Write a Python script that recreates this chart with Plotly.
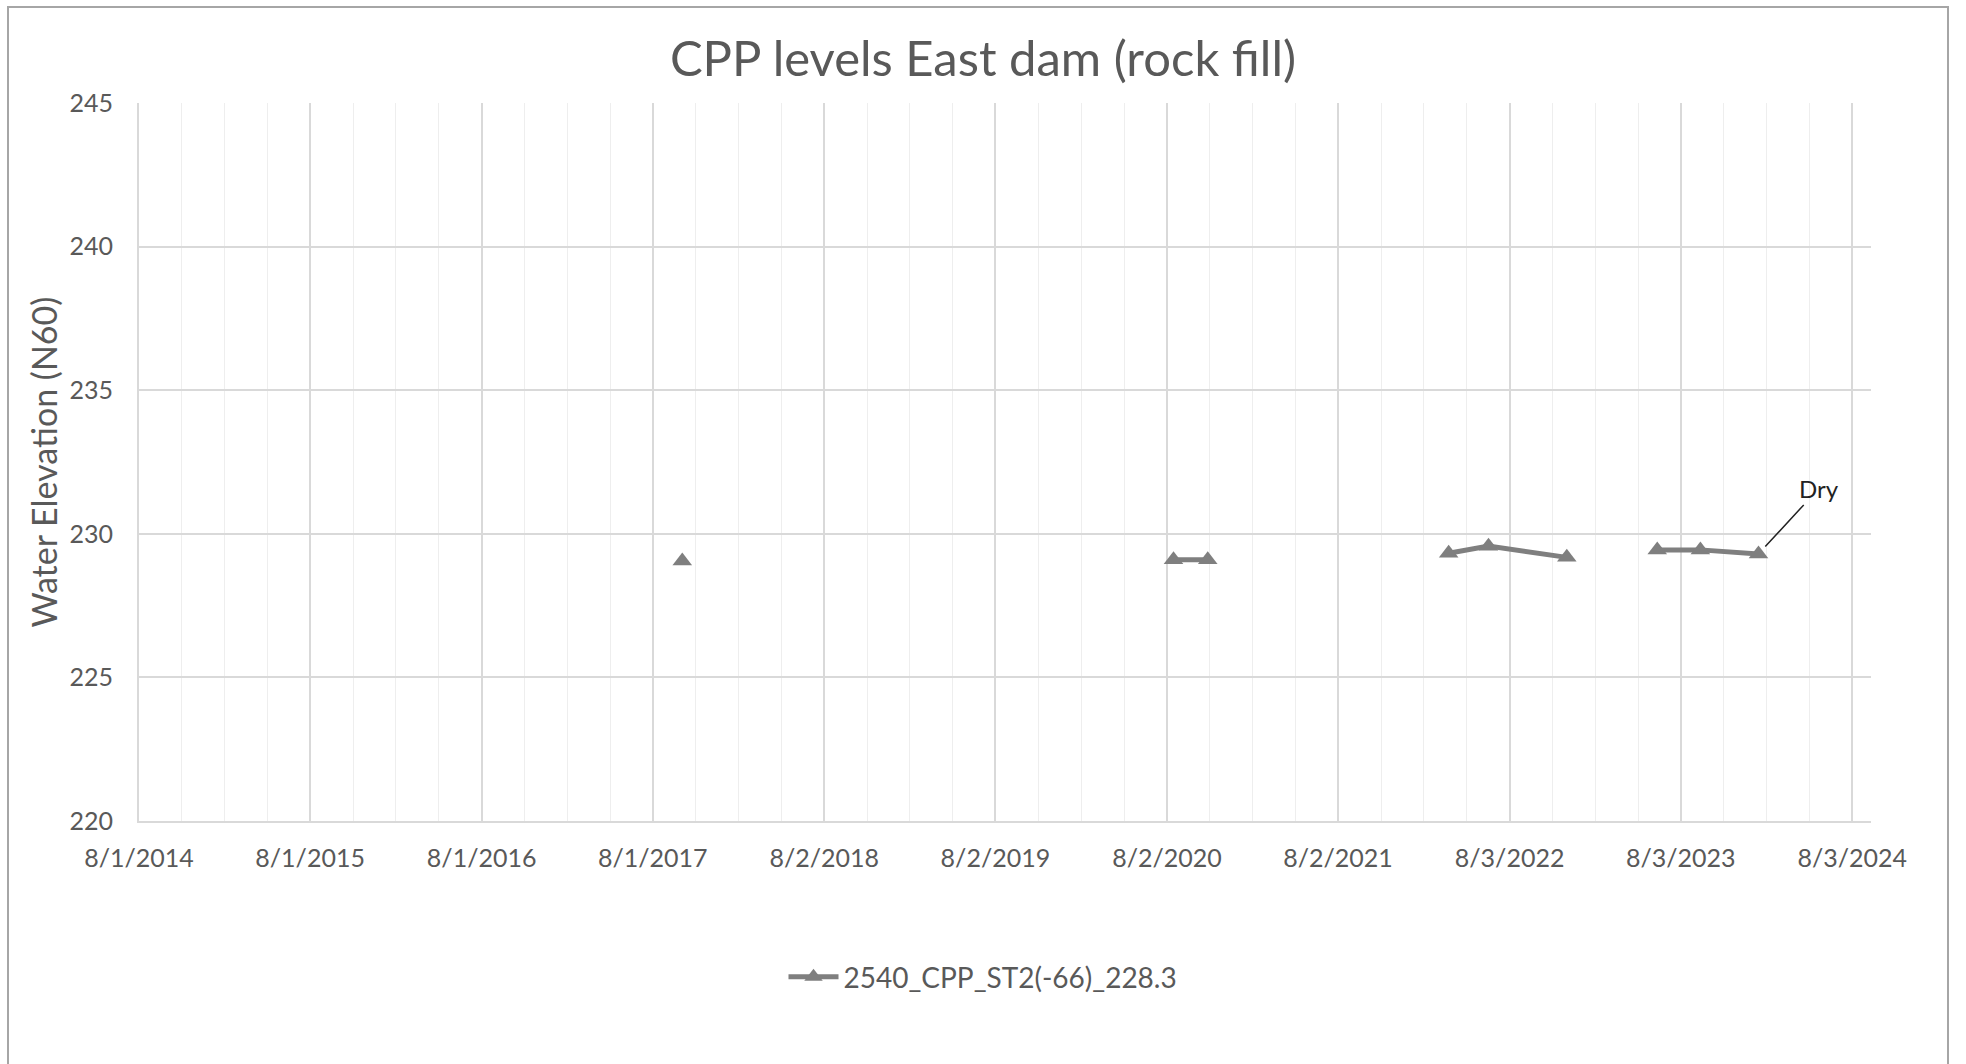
import pandas as pd
import plotly.graph_objects as go

# ---- data ----
reading_dates = ["2017-10-03", "2020-08-16", "2020-10-28",
                 "2022-03-26", "2022-06-19", "2022-12-03",
                 "2023-06-14", "2023-09-14", "2024-01-16"]
water_elev = [229.05, 229.10, 229.10,
              229.32, 229.57, 229.18,
              229.44, 229.44, 229.30]
campaign = [1, 2, 2, 3, 3, 3, 4, 4, 4]   # readings joined by a line within a campaign

series_name = "2540_CPP_ST2(-66)_228.3"
x_tick_labels = ["8/1/2014", "8/1/2015", "8/1/2016", "8/1/2017", "8/2/2018",
                 "8/2/2019", "8/2/2020", "8/2/2021", "8/3/2022", "8/3/2023", "8/3/2024"]
y_tick_vals = [220, 225, 230, 235, 240, 245]
x_range = ["2014-08-01", "2024-09-12"]

# ---- build one trace with gaps between campaigns ----
xs, ys = [], []
prev = None
for d, v, c in zip(reading_dates, water_elev, campaign):
    if prev is not None and c != prev:
        xs.append(None)
        ys.append(None)
    xs.append(d)
    ys.append(v)
    prev = c

TXT = "#595959"
GRID = "#d9d9d9"
MINOR = "#eeeeee"
SERIES = "#7f7f7f"
FONT = "Lato, Noto Sans, sans-serif"

tick_dates = pd.to_datetime(x_tick_labels, format="%m/%d/%Y")
step_ms = 365.5 / 4 * 24 * 3600 * 1000

fig = go.Figure()
fig.add_trace(go.Scatter(
    x=xs, y=ys, name=series_name, mode="lines+markers",
    connectgaps=False,
    line=dict(color=SERIES, width=5),
    marker=dict(symbol="triangle-up", size=17, color=SERIES),
))

fig.update_layout(
    width=1966, height=1064,
    margin=dict(l=139, r=95, t=103, b=243),
    paper_bgcolor="white", plot_bgcolor="white",
    font=dict(family=FONT, color=TXT, size=25),
    title=dict(text="CPP levels East dam (rock fill)", x=0.5, xref="container",
               xanchor="center", y=1 - 59 / 1064, yref="container", yanchor="middle",
               font=dict(size=49, color=TXT, family=FONT)),
    showlegend=True,
    legend=dict(orientation="h", xref="container", yref="container",
                x=0.5, xanchor="center", y=1 - 977 / 1064, yanchor="middle",
                font=dict(size=28, color=TXT, family=FONT), itemwidth=50),
    xaxis=dict(
        type="date", range=x_range,
        tickmode="array", tickvals=tick_dates, ticktext=x_tick_labels,
        showgrid=True, gridcolor=GRID, gridwidth=2,
        showline=True, linecolor=GRID, linewidth=2,
        ticks="", ticklabelstandoff=14,
        tickfont=dict(size=25, color=TXT),
        minor=dict(tick0="2014-08-01", dtick=step_ms, showgrid=True,
                   gridcolor=MINOR, gridwidth=1, ticks=""),
        zeroline=False,
    ),
    yaxis=dict(
        range=[220, 245], tickmode="array", tickvals=y_tick_vals,
        showgrid=True, gridcolor=GRID, gridwidth=2,
        showline=True, linecolor=GRID, linewidth=2,
        ticks="", ticklabelstandoff=19,
        tickfont=dict(size=25, color=TXT),
        title=dict(text="Water Elevation (N60)", font=dict(size=34, color=TXT), standoff=2),
        zeroline=False,
    ),
    shapes=[dict(type="rect", xref="paper", yref="paper",
                 x0=(8 - 139) / 1732, x1=(1948 - 139) / 1732,
                 y0=-0.5, y1=(821 - 7) / 718,
                 line=dict(color="#a6a6a6", width=2), fillcolor="rgba(0,0,0,0)",
                 layer="below")],
    annotations=[dict(x=reading_dates[-1], y=water_elev[-1], xref="x", yref="y",
                      text="Dry", showarrow=True, arrowhead=0, arrowwidth=1.5,
                      arrowcolor="#222222", ax=60, ay=-65, standoff=10,
                      font=dict(size=24, color="#222222", family=FONT))],
)

fig.write_html("out.html", config={"displayModeBar": False})
